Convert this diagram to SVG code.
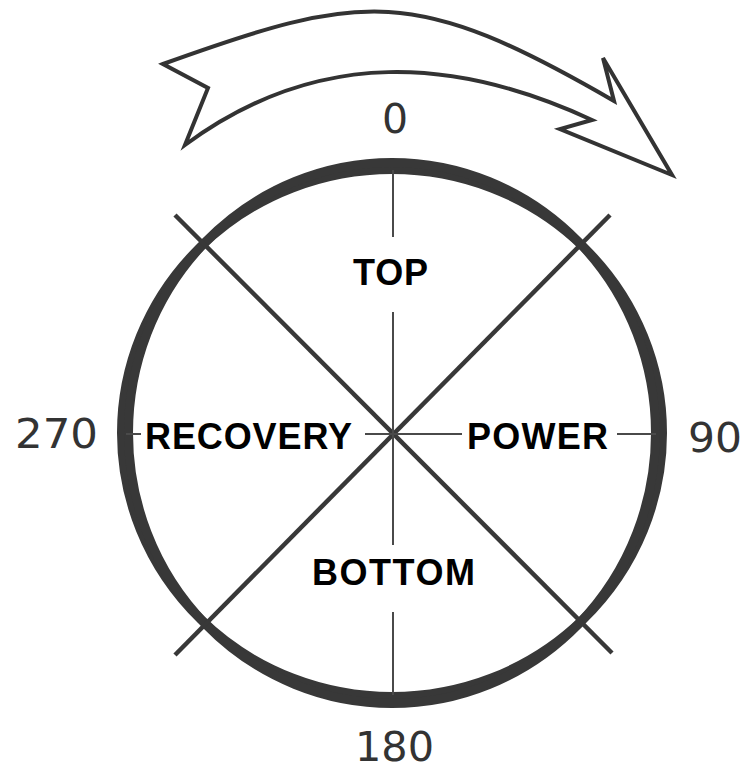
<svg xmlns="http://www.w3.org/2000/svg" width="745" height="765" viewBox="0 0 745 765">
<style>
.thin{stroke:#4a4a4a;stroke-width:2;fill:none}
.diag{stroke:#383838;stroke-width:4.5;fill:none}
.ring{stroke:#383838;stroke-width:9;fill:none}
.lbl{font-family:"Liberation Sans",Arial,sans-serif;font-weight:bold;font-size:36px;fill:#000}
.num{font-family:"DejaVu Sans","Liberation Sans",sans-serif;font-size:41px;fill:#333}
</style>
<rect width="745" height="765" fill="#fff"/>
<g id="rotation-arrow">
<path d="M163,64 C363,-8 414,-15 614,101 L603,58 L672,175 L560,129 L592,120 C458,58 319,46 185,145 L208,88 Z" fill="#fff" stroke="#333" stroke-width="4" stroke-linejoin="miter"/>
</g>
<g id="wheel">
<ellipse cx="392" cy="433" rx="270.5" ry="263.5" class="ring"/>
<ellipse cx="392" cy="433" rx="263.5" ry="270.5" class="ring"/>
</g>
<g id="connectors">
<line class="diag" x1="175" y1="215" x2="612" y2="653"/>
<line class="diag" x1="610" y1="215" x2="175" y2="655"/>
<line class="thin" x1="393" y1="170" x2="393" y2="237"/>
<line class="thin" x1="393" y1="312" x2="393" y2="545"/>
<line class="thin" x1="393" y1="612" x2="393" y2="695"/>
<line class="thin" x1="126" y1="434" x2="141" y2="434"/>
<line class="thin" x1="365" y1="434" x2="462" y2="434"/>
<line class="thin" x1="617" y1="434" x2="656" y2="434"/>
</g>
<g id="label-top"><text class="lbl" x="353" y="285" textLength="75" lengthAdjust="spacing">TOP</text></g>
<g id="label-bottom"><text class="lbl" x="312" y="585" textLength="163" lengthAdjust="spacing">BOTTOM</text></g>
<g id="label-recovery"><text class="lbl" x="145" y="449" textLength="207" lengthAdjust="spacing">RECOVERY</text></g>
<g id="label-power"><text class="lbl" x="467" y="449" textLength="141" lengthAdjust="spacing">POWER</text></g>
<g id="deg-0"><text class="num" x="395" y="133" text-anchor="middle">0</text></g>
<g id="deg-90"><text class="num" x="688" y="452" textLength="54" lengthAdjust="spacingAndGlyphs">90</text></g>
<g id="deg-180"><text class="num" x="355" y="761" textLength="79" lengthAdjust="spacingAndGlyphs">180</text></g>
<g id="deg-270"><text class="num" x="15" y="448" textLength="83" lengthAdjust="spacingAndGlyphs">270</text></g>
</svg>
